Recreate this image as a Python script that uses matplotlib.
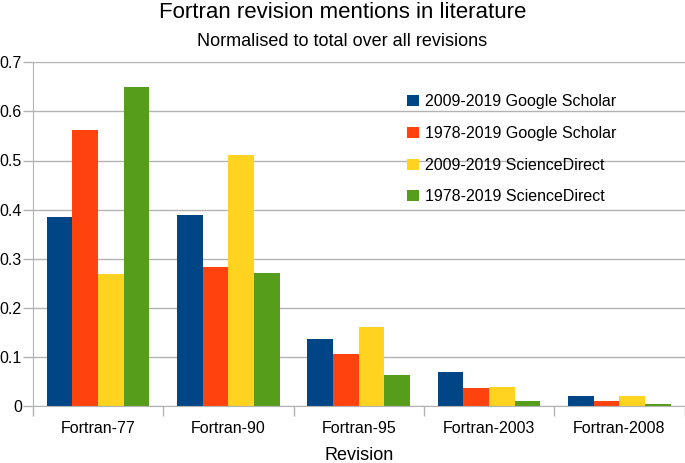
import matplotlib
matplotlib.use("Agg")
import matplotlib.pyplot as plt
import numpy as np

plt.rcParams['font.family'] = ['Liberation Sans', 'DejaVu Sans']

categories = ["Fortran-77", "Fortran-90", "Fortran-95", "Fortran-2003", "Fortran-2008"]
series_names = ["2009-2019 Google Scholar", "1978-2019 Google Scholar",
                "2009-2019 ScienceDirect", "1978-2019 ScienceDirect"]
gs_2009 = [0.384, 0.390, 0.136, 0.069, 0.021]
gs_1978 = [0.563, 0.284, 0.105, 0.037, 0.010]
sd_2009 = [0.269, 0.511, 0.161, 0.039, 0.020]
sd_1978 = [0.649, 0.271, 0.063, 0.011, 0.005]
yticks = [0, 0.1, 0.2, 0.3, 0.4, 0.5, 0.6, 0.7]

colors = ["#004586", "#ff420e", "#ffd320", "#579d1c"]
series = [gs_2009, gs_1978, sd_2009, sd_1978]

fig = plt.figure(figsize=(6.85, 4.63), dpi=100)
ax = fig.add_axes([33/685, 1-406/463, (684.5-33)/685, (406-62.3)/463])

x = np.arange(len(categories))
w = 0.197
for i, (vals, c, name) in enumerate(zip(series, colors, series_names)):
    ax.bar(x + (i - 1.5) * w, vals, width=w, color=c, label=name, zorder=3)

ax.set_xlim(-0.5, len(categories) - 0.5)
ax.set_ylim(0, 0.7)
ax.set_yticks(yticks)
ax.set_yticklabels([("%g" % v) for v in yticks], fontsize=11.5)
ax.set_xticks(x)
ax.set_xticklabels(categories, fontsize=11.5)
ax.set_xticks(np.arange(len(categories) + 1) - 0.5, minor=True)
ax.tick_params(axis='x', which='major', length=0, pad=11)
ax.tick_params(axis='x', which='minor', length=7, color='#b3b3b3', width=1)
ax.tick_params(axis='y', length=7, color='#b3b3b3', width=1, pad=1)
ax.grid(axis='y', color='#b3b3b3', linewidth=1, zorder=0)
for s in ['top', 'right']:
    ax.spines[s].set_visible(False)
for s in ['left', 'bottom']:
    ax.spines[s].set_color('#b3b3b3')
ax.spines['bottom'].set_zorder(4)
ax.set_xlabel("Revision", fontsize=13, labelpad=8)

leg = ax.legend(loc='upper left', bbox_to_anchor=(0.565, 0.925), frameon=False,
                fontsize=11.5, handlelength=0.7, handleheight=0.7, handletextpad=0.4,
                labelspacing=1.04, borderaxespad=0)

fig.text(0.5, 1-12/463, "Fortran revision mentions in literature", ha='center', va='center', fontsize=16)
fig.text(0.5, 1-41/463, "Normalised to total over all revisions", ha='center', va='center', fontsize=13)

fig.savefig("out.png", dpi=100)
